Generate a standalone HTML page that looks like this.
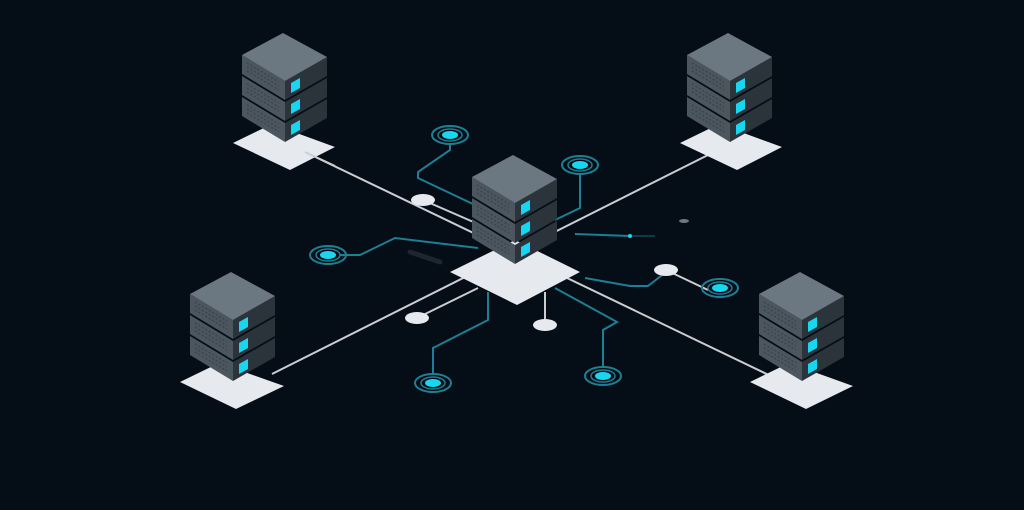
<!DOCTYPE html>
<html><head><style>
html,body{margin:0;padding:0;background:#050d17;}
svg{display:block;}
</style></head><body>
<svg width="1024" height="510" viewBox="0 0 1024 510" xmlns="http://www.w3.org/2000/svg">
<defs>
<g id="tier">
  <polygon points="-41,22 2,48 2,67 -41,41" fill="#4b565f"/>
  <polygon points="2,48 44,24 44,43 2,67" fill="#2b333b"/>
  <path d="M-36,30 L-4,49 M-36,34 L-4,53 M-36,38 L-4,57" stroke="#3b454e" stroke-width="1.5" stroke-dasharray="2 2"/>
  <polygon points="8,50 17,45 17,55 8,60" fill="#19d6f0"/>
</g>
<g id="srv">
  <use href="#tier" y="42"/>
  <use href="#tier" y="21"/>
  <use href="#tier" y="0"/>
  <polygon points="0,0 44,24 2,48 -41,22" fill="#6b7781"/>
</g>
</defs>
<rect width="1024" height="510" fill="#050d17"/>

<line x1="305" y1="152" x2="775" y2="378" stroke="#c9ced4" stroke-width="2"/>
<line x1="708" y1="155" x2="272" y2="374" stroke="#c9ced4" stroke-width="2"/>

<g fill="none" stroke="#1c7f92" stroke-width="2">
  <polyline points="450,143 450,150 418,172 418,178 475,205"/>
  <polyline points="580,173 580,208 555,220"/>
  <polyline points="340,255 360,255 395,238 478,248"/>
  <polyline points="585,278 630,286 648,286 666,272"/>
  <polyline points="433,375 433,348 488,320 488,292"/>
  <polyline points="603,368 603,330 617,322 555,288"/>
  <line x1="575" y1="234" x2="630" y2="236"/>
</g>
<line x1="630" y1="236" x2="655" y2="236" stroke="#0e3a48" stroke-width="2"/>
<circle cx="630" cy="236" r="2" fill="#19d6f0"/>
<ellipse cx="684" cy="221" rx="5" ry="2" fill="#6b7781"/>
<line x1="410" y1="252" x2="440" y2="262" stroke="#1d252e" stroke-width="5" stroke-linecap="round"/>

<g stroke="#c9ced4" stroke-width="2">
  <line x1="423" y1="200" x2="478" y2="224"/>
  <line x1="417" y1="318" x2="478" y2="288"/>
  <line x1="545" y1="325" x2="545" y2="292"/>
  <line x1="666" y1="270" x2="708" y2="290"/>
</g>
<g fill="#e6eaee">
  <ellipse cx="423" cy="200" rx="12" ry="6"/>
  <ellipse cx="666" cy="270" rx="12" ry="6"/>
  <ellipse cx="417" cy="318" rx="12" ry="6"/>
  <ellipse cx="545" cy="325" rx="12" ry="6"/>
</g>

<g>
  <g transform="translate(450,135)"><ellipse rx="18" ry="9" fill="none" stroke="#1c7f92" stroke-width="2"/><ellipse rx="12" ry="6" fill="none" stroke="#1c7f92" stroke-width="1.5"/><ellipse rx="8" ry="4" fill="#19d6f0"/></g>
  <g transform="translate(580,165)"><ellipse rx="18" ry="9" fill="none" stroke="#1c7f92" stroke-width="2"/><ellipse rx="12" ry="6" fill="none" stroke="#1c7f92" stroke-width="1.5"/><ellipse rx="8" ry="4" fill="#19d6f0"/></g>
  <g transform="translate(328,255)"><ellipse rx="18" ry="9" fill="none" stroke="#1c7f92" stroke-width="2"/><ellipse rx="12" ry="6" fill="none" stroke="#1c7f92" stroke-width="1.5"/><ellipse rx="8" ry="4" fill="#19d6f0"/></g>
  <g transform="translate(720,288)"><ellipse rx="18" ry="9" fill="none" stroke="#1c7f92" stroke-width="2"/><ellipse rx="12" ry="6" fill="none" stroke="#1c7f92" stroke-width="1.5"/><ellipse rx="8" ry="4" fill="#19d6f0"/></g>
  <g transform="translate(433,383)"><ellipse rx="18" ry="9" fill="none" stroke="#1c7f92" stroke-width="2"/><ellipse rx="12" ry="6" fill="none" stroke="#1c7f92" stroke-width="1.5"/><ellipse rx="8" ry="4" fill="#19d6f0"/></g>
  <g transform="translate(603,376)"><ellipse rx="18" ry="9" fill="none" stroke="#1c7f92" stroke-width="2"/><ellipse rx="12" ry="6" fill="none" stroke="#1c7f92" stroke-width="1.5"/><ellipse rx="8" ry="4" fill="#19d6f0"/></g>
</g>

<g fill="#e6eaee">
  <polygon points="233,143 272,124 335,147 290,170"/>
  <polygon points="680,143 719,124 782,147 737,170"/>
  <polygon points="180,382 219,363 284,386 236,409"/>
  <polygon points="750,382 789,363 853,386 806,409"/>
  <polygon points="450,272 515,240 580,272 517,305"/>
</g>
<line x1="305" y1="152" x2="335" y2="166" stroke="#c9ced4" stroke-width="2"/>

<use href="#srv" x="283" y="33"/>
<use href="#srv" x="728" y="33"/>
<use href="#srv" x="231" y="272"/>
<use href="#srv" x="800" y="272"/>
<use href="#srv" x="513" y="155"/>
</svg>
</body></html>
